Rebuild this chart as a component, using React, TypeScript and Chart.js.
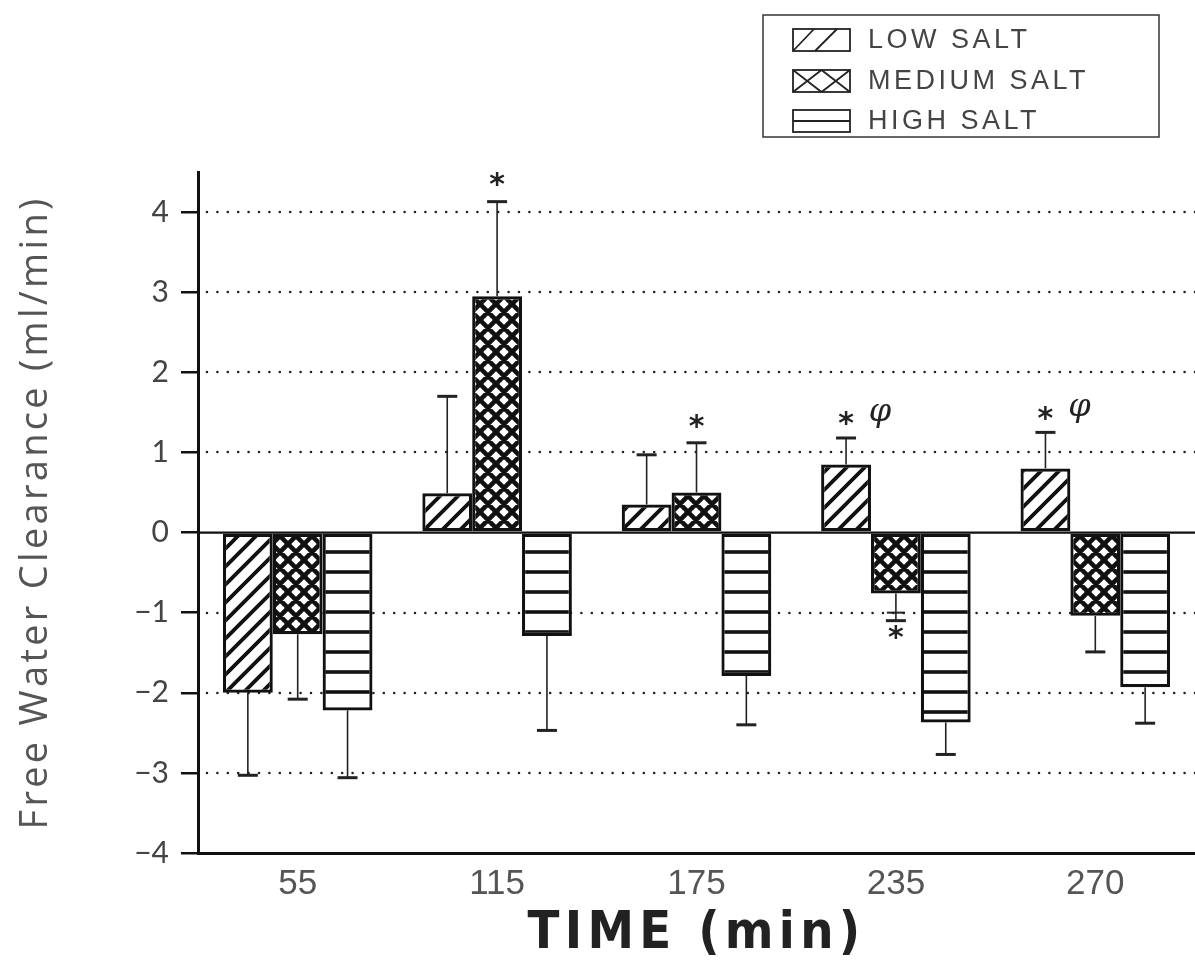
import React, { useEffect, useRef } from "react";
import { Chart, registerables } from "chart.js";

Chart.register(...registerables);

// ---------- data ----------
const categories = ["55", "115", "175", "235", "270"];
const seriesNames = ["LOW SALT", "MEDIUM SALT", "HIGH SALT"];
const lowSalt = [-2.0, 0.49, 0.35, 0.85, 0.8];
const mediumSalt = [-1.27, 2.95, 0.5, -0.76, -1.04];
const highSalt = [-2.22, -1.29, -1.79, -2.37, -1.93];
// end value of each error bar (drawn away from zero)
const lowSaltErrEnd = [-3.03, 1.7, 0.97, 1.18, 1.25];
const mediumSaltErrEnd = [-2.08, 4.13, 1.12, -1.1, -1.49];
const highSaltErrEnd = [-3.06, -2.47, -2.4, -2.77, -2.38];
const yTicks = [-4, -3, -2, -1, 0, 1, 2, 3, 4];
const yMin = -4;
const yMax = 4.5;
// significance marks: series index, category index, value where the mark sits
const starMarks = [
  { ds: 1, i: 1, y: 4.41 },
  { ds: 1, i: 2, y: 1.39 },
  { ds: 0, i: 3, y: 1.42 },
  { ds: 0, i: 4, y: 1.49 },
  { ds: 1, i: 3, y: -1.25 },
];
const phiMarks = [
  { ds: 0, i: 3, y: 1.45 },
  { ds: 0, i: 4, y: 1.52 },
];
const extraCaps = [{ ds: 1, i: 3, y: -1.0 }];

const yTitle = "Free Water Clearance (ml/min)";
const xTitle = "TIME (min)";

// ---------- patterns ----------
function makePattern(kind: string): CanvasPattern | string {
  const c = document.createElement("canvas");
  let s = 18;
  if (kind === "cross") s = 16;
  if (kind === "horiz") s = 20;
  c.width = s;
  c.height = s;
  const g = c.getContext("2d")!;
  g.fillStyle = "#fff";
  g.fillRect(0, 0, s, s);
  g.strokeStyle = "#111";
  g.lineCap = "square";
  if (kind === "slash") {
    g.lineWidth = 3.8;
    g.beginPath();
    g.moveTo(0, s);
    g.lineTo(s, 0);
    g.moveTo(-3, 3);
    g.lineTo(3, -3);
    g.moveTo(s - 3, s + 3);
    g.lineTo(s + 3, s - 3);
    g.stroke();
  } else if (kind === "cross") {
    g.lineWidth = 4.6;
    g.beginPath();
    g.moveTo(0, 0);
    g.lineTo(s, s);
    g.moveTo(0, s);
    g.lineTo(s, 0);
    g.moveTo(-3, s - 3);
    g.lineTo(3, s + 3);
    g.moveTo(s - 3, -3);
    g.lineTo(s + 3, 3);
    g.moveTo(-3, 3);
    g.lineTo(3, -3);
    g.moveTo(s - 3, s + 3);
    g.lineTo(s + 3, s - 3);
    g.stroke();
  } else {
    g.lineWidth = 3.6;
    g.beginPath();
    g.moveTo(0, 12);
    g.lineTo(s, 12);
    g.stroke();
  }
  const p = g.createPattern(c, "repeat");
  return p || "#fff";
}

function fitSpacing(ctx: CanvasRenderingContext2D, text: string, target: number) {
  (ctx as any).letterSpacing = "0px";
  const w = ctx.measureText(text).width;
  const n = text.length;
  const sp = Math.max(0, (target - w) / n);
  (ctx as any).letterSpacing = sp + "px";
}

const overlayPlugin = {
  id: "overlay",
  beforeDatasetsDraw(chart: any) {
    const { ctx, chartArea: a } = chart;
    const y = chart.scales.y;
    ctx.save();
    ctx.strokeStyle = "#222";
    ctx.lineWidth = 2.6;
    ctx.lineCap = "round";
    ctx.setLineDash([0, 10.4]);
    for (const v of yTicks) {
      if (v === 0 || v === yMin) continue;
      const py = Math.round(y.getPixelForValue(v));
      ctx.beginPath();
      ctx.moveTo(a.left + 9, py);
      ctx.lineTo(a.right, py);
      ctx.stroke();
    }
    ctx.restore();
  },
  afterDatasetsDraw(chart: any) {
    const { ctx, chartArea: a } = chart;
    const y = chart.scales.y;
    ctx.save();
    // zero line
    const zy = y.getPixelForValue(0);
    ctx.strokeStyle = "#111";
    ctx.lineWidth = 2.2;
    ctx.beginPath();
    ctx.moveTo(a.left, zy);
    ctx.lineTo(a.right, zy);
    ctx.stroke();

    // error bars
    const ends = [lowSaltErrEnd, mediumSaltErrEnd, highSaltErrEnd];
    ends.forEach((arr, di) => {
      const meta = chart.getDatasetMeta(di);
      meta.data.forEach((bar: any, i: number) => {
        const x = bar.x;
        const y0 = bar.y;
        const y1 = y.getPixelForValue(arr[i]);
        ctx.strokeStyle = "#222";
        ctx.lineWidth = 1.6;
        ctx.beginPath();
        ctx.moveTo(x, y0);
        ctx.lineTo(x, y1);
        ctx.stroke();
        ctx.lineWidth = 3;
        ctx.beginPath();
        ctx.moveTo(x - 10, y1);
        ctx.lineTo(x + 10, y1);
        ctx.stroke();
      });
    });
    extraCaps.forEach((m) => {
      const bar = chart.getDatasetMeta(m.ds).data[m.i];
      const py = y.getPixelForValue(m.y);
      ctx.lineWidth = 2;
      ctx.beginPath();
      ctx.moveTo(bar.x - 9, py);
      ctx.lineTo(bar.x + 9, py);
      ctx.stroke();
    });

    // stars
    ctx.fillStyle = "#222";
    ctx.textAlign = "center";
    ctx.textBaseline = "alphabetic";
    ctx.font = 'bold 30px "DejaVu Sans"';
    const sm = ctx.measureText("*");
    const sOff = (sm.actualBoundingBoxAscent - sm.actualBoundingBoxDescent) / 2;
    starMarks.forEach((m) => {
      const bar = chart.getDatasetMeta(m.ds).data[m.i];
      ctx.fillText("*", bar.x, y.getPixelForValue(m.y) + sOff);
    });
    ctx.font = 'italic 32px "DejaVu Serif"';
    const pm = ctx.measureText("\u03C6");
    const pOff = (pm.actualBoundingBoxAscent - pm.actualBoundingBoxDescent) / 2;
    phiMarks.forEach((m) => {
      const bar = chart.getDatasetMeta(m.ds).data[m.i];
      ctx.fillText("\u03C6", bar.x + 34, y.getPixelForValue(m.y) + pOff);
    });
    ctx.restore();
  },
  afterDraw(chart: any) {
    const { ctx, chartArea: a } = chart;
    ctx.save();
    // y-axis title
    ctx.fillStyle = "#555";
    ctx.font = '38px "Open Sans"';
    ctx.textAlign = "center";
    ctx.textBaseline = "middle";
    ctx.translate(36, (a.top + a.bottom) / 2 + 0);
    ctx.rotate(-Math.PI / 2);
    fitSpacing(ctx, yTitle, 634);
    ctx.fillText(yTitle, 0, 0);
    ctx.restore();

    // x-axis title
    ctx.save();
    ctx.fillStyle = "#222";
    ctx.font = 'bold 52px "DejaVu Sans Condensed", "DejaVu Sans"';
    ctx.textAlign = "center";
    ctx.textBaseline = "middle";
    fitSpacing(ctx, xTitle, 338);
    ctx.fillText(xTitle, (a.left + a.right) / 2, 934);
    ctx.restore();

    // legend
    ctx.save();
    const lx = 763, ly = 15, lw = 396, lh = 122;
    ctx.strokeStyle = "#333";
    ctx.lineWidth = 1.5;
    ctx.strokeRect(lx, ly, lw, lh);
    const rows = [40, 81, 121];
    const sx = 793, sw = 57, sh = 22;
    rows.forEach((ry, k) => {
      const top = ry - sh / 2;
      ctx.strokeStyle = "#222";
      ctx.lineWidth = 1.8;
      ctx.strokeRect(sx, top, sw, sh);
      ctx.beginPath();
      if (k === 0) {
        ctx.moveTo(sx, top + sh);
        ctx.lineTo(sx + 21, top);
        ctx.moveTo(sx + 22, top + sh);
        ctx.lineTo(sx + 44, top);
      } else if (k === 1) {
        const h = sw / 2;
        ctx.moveTo(sx, top);
        ctx.lineTo(sx + h, top + sh);
        ctx.moveTo(sx, top + sh);
        ctx.lineTo(sx + h, top);
        ctx.moveTo(sx + h, top);
        ctx.lineTo(sx + sw, top + sh);
        ctx.moveTo(sx + h, top + sh);
        ctx.lineTo(sx + sw, top);
      } else {
        ctx.moveTo(sx, ry);
        ctx.lineTo(sx + sw, ry);
      }
      ctx.stroke();
      ctx.fillStyle = "#444";
      ctx.font = '27px "Liberation Sans"';
      (ctx as any).letterSpacing = "3.5px";
      ctx.textAlign = "left";
      ctx.textBaseline = "middle";
      ctx.fillText(seriesNames[k], 868, ry + 1);
    });
    ctx.restore();
  },
};

export default function App() {
  const ref = useRef<HTMLCanvasElement>(null);
  useEffect(() => {
    const canvas = ref.current!;
    const pats = [makePattern("slash"), makePattern("cross"), makePattern("horiz")];
    const values = [lowSalt, mediumSalt, highSalt];
    const chart = new Chart(canvas, {
      type: "bar",
      data: {
        labels: categories,
        datasets: values.map((d, k) => ({
          label: seriesNames[k],
          data: d,
          backgroundColor: pats[k] as any,
          borderColor: "#111",
          borderWidth: 3.2,
          borderSkipped: false,
          categoryPercentage: 0.75,
          barPercentage: 1.0,
        })),
      },
      options: {
        animation: false,
        responsive: false,
        events: [],
        layout: { padding: { top: 172, left: 0, right: 0, bottom: 0 } },
        plugins: {
          legend: { display: false },
          tooltip: { enabled: false },
        },
        scales: {
          x: {
            grid: { display: true, drawOnChartArea: false, drawTicks: false },
            border: { display: true, color: "#111", width: 3 },
            ticks: {
              color: "#555",
              padding: 10,
              font: { family: '"Liberation Sans Narrow", "Liberation Sans"', size: 35 },
            },
            afterFit: (s: any) => {
              s.height = 113;
            },
          },
          y: {
            min: yMin,
            max: yMax,
            afterBuildTicks: (s: any) => {
              s.ticks = yTicks.map((v) => ({ value: v }));
            },
            grid: {
              drawOnChartArea: false,
              drawTicks: true,
              tickLength: 17,
              tickColor: "#111",
              tickWidth: 2.5,
              lineWidth: 2.5,
            },
            border: { display: true, color: "#111", width: 3 },
            ticks: {
              color: "#444",
              padding: 12,
              font: { family: "Lato", size: 30 },
              callback: (v: any) => (Number(v) < 0 ? "\u2212" + Math.abs(Number(v)) : String(v)),
            },
            afterFit: (s: any) => {
              s.width = 198;
            },
          },
        },
      },
      plugins: [overlayPlugin],
    });
    return () => chart.destroy();
  }, []);
  return (
    <div style={{ position: "fixed", left: 0, top: 0, width: 1195, height: 966, background: "#fff" }}>
      <canvas ref={ref} width={1195} height={966} style={{ display: "block" }} />
    </div>
  );
}
